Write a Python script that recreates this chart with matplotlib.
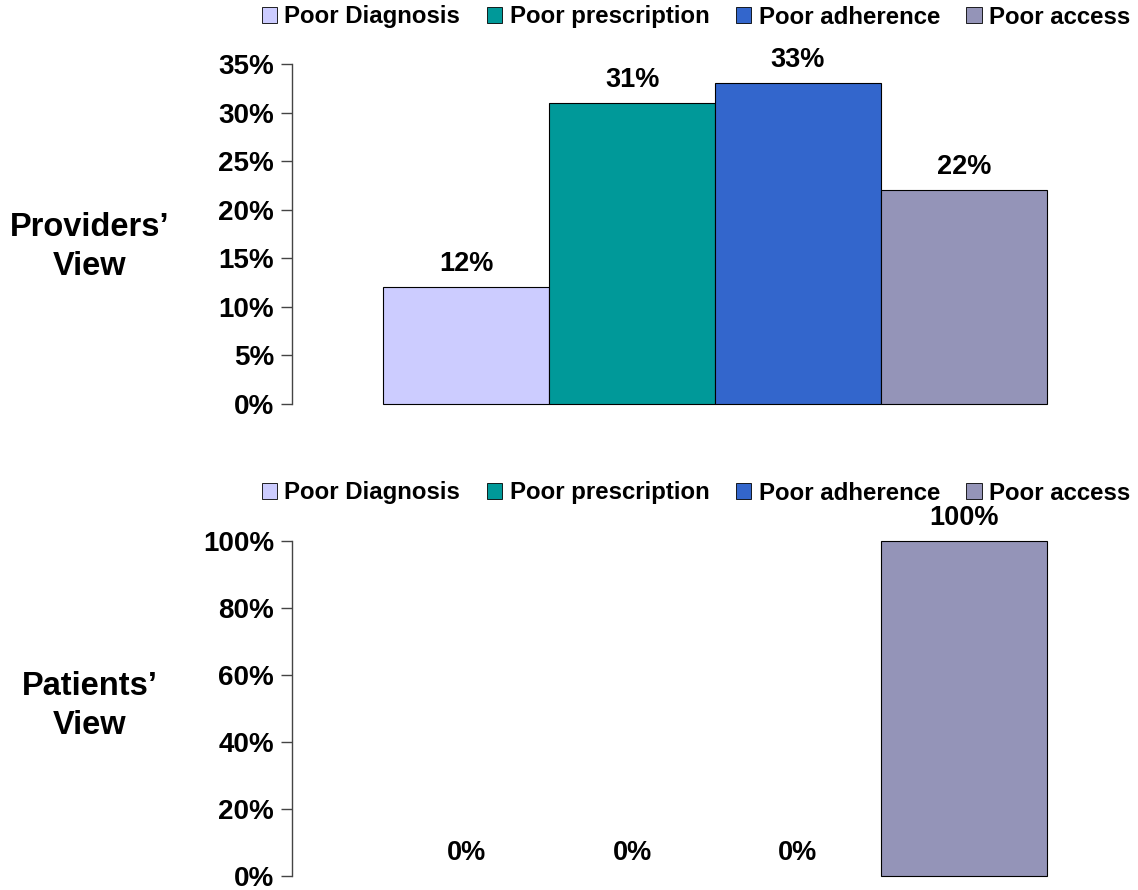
import matplotlib
matplotlib.use("Agg")
import matplotlib.pyplot as plt
from matplotlib.patches import Patch
from matplotlib.ticker import FuncFormatter

plt.rcParams['font.family'] = ['Liberation Sans', 'DejaVu Sans']
plt.rcParams['font.weight'] = 'bold'

categories = ["Poor Diagnosis", "Poor prescription", "Poor adherence", "Poor access"]
providers = [12, 31, 33, 22]
patients = [0, 0, 0, 100]
colors = ["#CCCCFF", "#009999", "#3366CC", "#9494B8"]

fig = plt.figure(figsize=(11.38, 8.9), dpi=100)
W, H = 1138, 890


def make_axes(left_px, top_px, bottom_px):
    return fig.add_axes([left_px / W, (H - bottom_px) / H,
                         (W - left_px) / W, (bottom_px - top_px) / H])


def draw_panel(ax, values, ymax, step, title, title_y, legend_y):
    width = 0.196
    n = len(values)
    for i, (v, c) in enumerate(zip(values, colors)):
        x = (i - (n - 1) / 2) * width
        ax.bar(x, v, width=width, color=c, edgecolor="black",
               linewidth=0.8 if v > 0 else 0, clip_on=False)
        ax.annotate(f"{v:g}%", (x, v), xytext=(0, 11.5), textcoords="offset points",
                    ha="center", va="baseline", fontsize=19.5, fontweight="bold")
    ax.set_xlim(-0.5, 0.5)
    ax.set_ylim(0, ymax)
    ax.set_yticks(range(0, ymax + 1, step))
    ax.yaxis.set_major_formatter(FuncFormatter(lambda v, p: f"{v:.0f}%"))
    ax.tick_params(axis="y", direction="out", length=8, width=1, color="#444444",
                   labelsize=20, pad=5)
    for lab in ax.get_yticklabels():
        lab.set_fontweight("bold")
    ax.set_xticks([])
    for s in ("top", "right", "bottom"):
        ax.spines[s].set_visible(False)
    ax.spines["left"].set_color("#444444")
    ax.spines["left"].set_linewidth(1)

    handles = [Patch(facecolor=c, edgecolor="black", linewidth=0.6) for c in colors]
    fig.legend(handles, categories, loc="center", bbox_to_anchor=(696 / W, legend_y),
               ncol=4, frameon=False, handlelength=0.65, handleheight=0.65,
               handletextpad=0.3, columnspacing=1.1,
               prop={"weight": "bold", "size": 17.3})
    fig.text(90 / W, title_y, title, ha="center", va="center", fontsize=23.5,
             fontweight="bold", linespacing=1.3)


ax1 = make_axes(292, 64, 404)
draw_panel(ax1, providers, 35, 5, "Providers\u2019\nView", (H - 247) / H,
           (H - 17) / H)

ax2 = make_axes(292, 541, 876)
draw_panel(ax2, patients, 100, 20, "Patients\u2019\nView", (H - 706) / H,
           (H - 493) / H)

fig.savefig("out.png", dpi=100)
